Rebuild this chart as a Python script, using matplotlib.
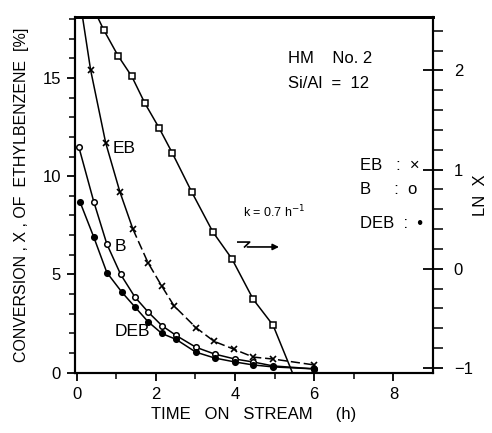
import matplotlib.pyplot as plt

plt.rcParams['font.family'] = ['Liberation Sans', 'DejaVu Sans']

# time on stream (h) and conversion X (%)
t_eb = [0.35, 0.73, 1.09, 1.42, 1.80, 2.15, 2.46, 3.01, 3.47, 3.97, 4.46, 4.96, 6.0]
x_eb = [15.4, 11.7, 9.2, 7.3, 5.6, 4.4, 3.4, 2.3, 1.6, 1.2, 0.8, 0.7, 0.4]
t_b = [0.05, 0.43, 0.76, 1.11, 1.47, 1.80, 2.15, 2.51, 3.01, 3.49, 4.0, 4.46, 4.96, 6.0]
x_b = [11.5, 8.7, 6.55, 5.0, 3.85, 3.1, 2.4, 1.9, 1.3, 0.95, 0.7, 0.55, 0.35, 0.2]
t_deb = [0.08, 0.43, 0.76, 1.14, 1.47, 1.80, 2.15, 2.51, 3.01, 3.49, 4.0, 4.46, 4.96, 6.0]
x_deb = [8.7, 6.9, 5.1, 4.1, 3.35, 2.6, 2.0, 1.7, 1.05, 0.75, 0.55, 0.4, 0.3, 0.2]
# ln X of EB (right axis)
t_ln = [0.68, 1.04, 1.39, 1.72, 2.08, 2.41, 2.91, 3.44, 3.92, 4.46, 4.96]
ln_x = [2.41, 2.15, 1.94, 1.67, 1.42, 1.17, 0.77, 0.37, 0.10, -0.31, -0.57]
# ends of the drawn curves beyond the points
eb_top = (0.13, 18.3)
ln_ends = ((0.50, 2.56), (5.45, -1.05))

fig = plt.figure(figsize=(4.92, 4.33), dpi=100)
ax = fig.add_axes([0.152, 0.139, 0.728, 0.822])
ax2 = ax.twinx()

lw = 1.1
ax.plot([eb_top[0]] + t_eb[:4], [eb_top[1]] + x_eb[:4], color='k', lw=lw)
ax.plot(t_eb[3:], x_eb[3:], color='k', lw=lw, dashes=(6, 2.5))
ax.plot(t_eb, x_eb, 'x', color='k', ms=4.5, mew=1.2)
ax.plot(t_b, x_b, '-o', color='k', lw=lw, ms=4, mfc='white', mew=1.1)
ax.plot(t_deb, x_deb, '-o', color='k', lw=lw, ms=4, mfc='k', mew=1.1)

ax2.plot([ln_ends[0][0]] + t_ln + [ln_ends[1][0]],
         [ln_ends[0][1]] + ln_x + [ln_ends[1][1]], color='k', lw=lw)
ax2.plot(t_ln, ln_x, 's', color='k', ms=4, mfc='white', mew=1.1)

ax.set_xlim(-0.05, 9.0)
ax.set_ylim(0, 18.1)
ax2.set_ylim(-1.05, 2.54)

ax.set_xticks([0, 2, 4, 6, 8])
ax.set_xticks([1, 3, 5, 7], minor=True)
ax.set_yticks([0, 5, 10, 15])
ax.set_yticks(range(0, 19), minor=True)
ax2.set_yticks([-1, 0, 1, 2])
ax2.set_yticks([-1 + 0.2 * i for i in range(18)], minor=True)

for a in (ax, ax2):
    for s in a.spines.values():
        s.set_linewidth(1.5)
    a.spines['top'].set_linewidth(2)
    a.tick_params(which='major', direction='out', length=6, width=1.3, labelsize=12, pad=4)
    a.tick_params(which='minor', direction='out', length=4, width=1.1)
ax2.tick_params(axis='y', which='major', direction='inout', length=14, pad=8)
ax2.tick_params(axis='y', which='minor', length=7)

ax.set_xlabel('TIME   ON   STREAM     (h)', fontsize=12, labelpad=4)
ax.set_ylabel('CONVERSION , X , OF  ETHYLBENZENE  [%]', fontsize=11.5, labelpad=10)
ax2.set_ylabel('LN  X', fontsize=12, labelpad=0)

ax.text(0.9, 11.4, 'EB', fontsize=12.5, va='center')
ax.text(0.96, 6.4, 'B', fontsize=12.5, va='center')
ax.text(0.96, 2.1, 'DEB', fontsize=12.5, va='center')

ax.text(5.33, 16.0, 'HM    No. 2', fontsize=12, va='center')
ax.text(5.33, 14.7, 'Si/Al  =  12', fontsize=12, va='center')
ax.text(7.15, 10.55, 'EB   :  ×', fontsize=12, va='center')
ax.text(7.15, 9.3, 'B     :  o', fontsize=12, va='center')
ax.text(7.15, 7.6, 'DEB  :  •', fontsize=12, va='center')
ax.text(4.2, 8.2, 'k = 0.7 h$^{-1}$', fontsize=9, va='center')

# broken arrow pointing at the right axis
ax.plot([4.07, 4.37, 4.24], [6.65, 6.65, 6.4], color='k', lw=1.2)
ax.annotate('', xy=(5.18, 6.4), xytext=(4.24, 6.4),
            arrowprops=dict(arrowstyle='-|>', color='k', lw=1.2, mutation_scale=9))

fig.savefig('out.png', dpi=100)
